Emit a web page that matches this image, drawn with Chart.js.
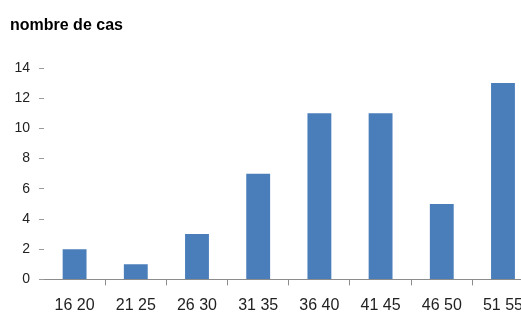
<!DOCTYPE html>
<html>
<head>
<meta charset="utf-8">
<script src="https://cdn.jsdelivr.net/npm/chart.js@4"></script>
<style>
  html, body { margin: 0; padding: 0; background: #fff; overflow: hidden; }
  #wrap { width: 534px; height: 324px; }
</style>
</head>
<body>
<div id="wrap"><canvas id="c" width="534" height="324"></canvas></div>
<script>
// Age groups (years) and number of cases in each
const ageGroups = ['16 20', '21 25', '26 30', '31 35', '36 40', '41 45', '46 50', '51 55'];
const caseCounts = [2, 1, 3, 7, 11, 11, 5, 13];
const yTickValues = [0, 2, 4, 6, 8, 10, 12, 14];
const titleText = 'nombre de cas';

const sans = '"Liberation Sans", Arial, sans-serif';

new Chart(document.getElementById('c'), {
  type: 'bar',
  data: {
    labels: ageGroups,
    datasets: [{
      data: caseCounts,
      backgroundColor: '#4a7ebb',
      borderWidth: 0,
      barPercentage: 0.39,
      categoryPercentage: 1.0
    }]
  },
  options: {
    responsive: false,
    animation: false,
    devicePixelRatio: 1,
    layout: { padding: { left: 10, top: 0, right: 0, bottom: 0 } },
    plugins: {
      legend: { display: false },
      tooltip: { enabled: false },
      title: {
        display: true,
        text: titleText,
        align: 'start',
        color: '#000',
        font: { family: sans, size: 16, weight: 'bold', lineHeight: 1.2 },
        padding: { top: 16, bottom: 32.8 }
      }
    },
    scales: {
      x: {
        afterFit(scale) { scale.height = 44.6; },
        grid: {
          display: true,
          drawOnChartArea: false,
          drawTicks: true,
          tickLength: 6,
          color: (ctx) => ctx.index === 0 ? 'rgba(0,0,0,0)' : '#8c8c8c',
          offset: true
        },
        border: { display: true, color: '#8c8c8c', width: 1 },
        ticks: {
          color: '#222',
          padding: 11,
          maxRotation: 0,
          autoSkip: false,
          font: { family: sans, size: 16, lineHeight: 1.2 }
        }
      },
      y: {
        min: 0,
        max: 14,
        afterFit(scale) { scale.width = 34; },
        afterBuildTicks(scale) { scale.ticks = yTickValues.map(v => ({ value: v })); },
        grid: {
          display: true,
          drawOnChartArea: false,
          drawTicks: true,
          tickLength: 5,
          color: '#9a9a9a'
        },
        border: { display: false },
        ticks: {
          color: '#222',
          padding: 9,
          font: { family: sans, size: 14, lineHeight: 1.2 }
        }
      }
    }
  }
});
</script>
</body>
</html>
